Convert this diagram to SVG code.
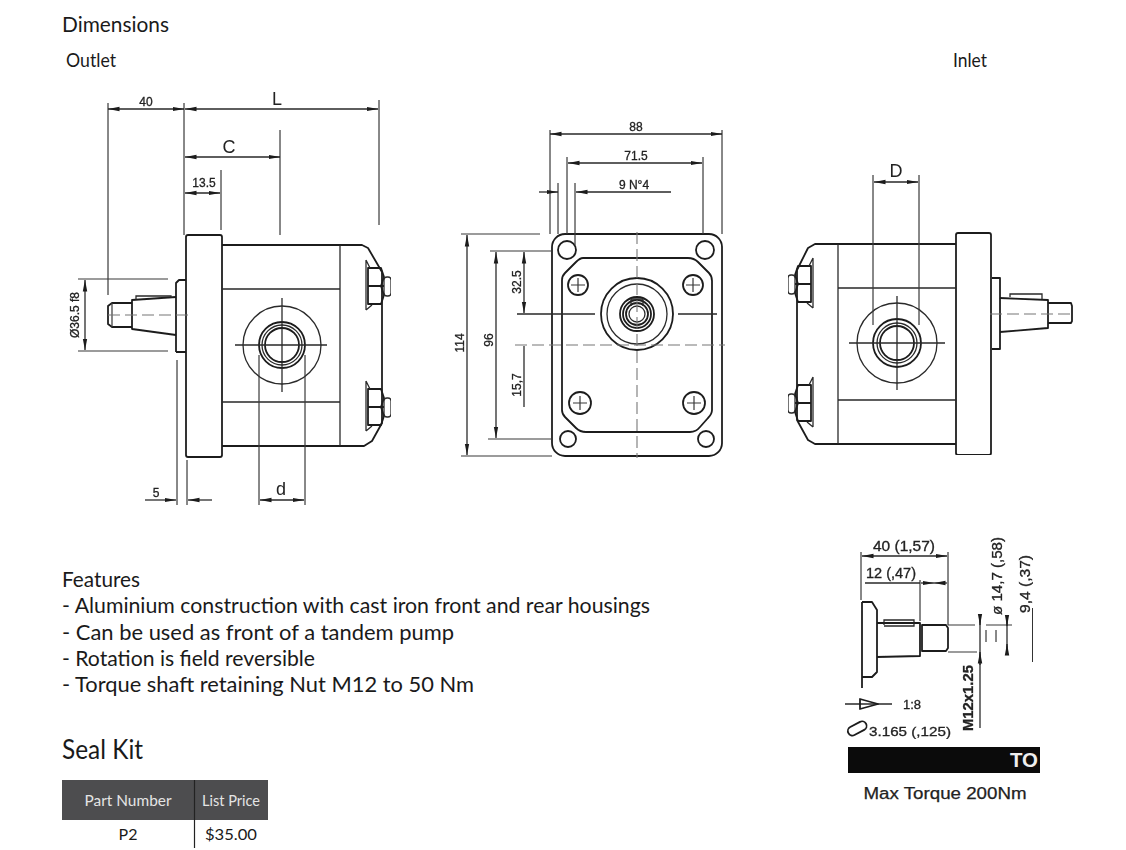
<svg xmlns="http://www.w3.org/2000/svg" width="1126" height="850" viewBox="0 0 1126 850">
<style>
.t{font-family:"Lato","Liberation Sans",sans-serif;fill:#1a1a1a}
.h{font-size:21px}
.th{font-size:16px;fill:#e4e4e4;text-anchor:middle}
.td{font-size:16px;text-anchor:middle}
.d{font-family:"Liberation Sans",sans-serif;fill:#222;stroke:#222;stroke-width:.3;font-size:12px;text-anchor:middle}
.dl{font-family:"Liberation Sans",sans-serif;fill:#222;font-size:18px;text-anchor:middle}
.g{fill:none;stroke:#1c1c1c;stroke-width:1.8;stroke-linejoin:round}
.m{fill:none;stroke:#2a2a2a;stroke-width:1.3}
.f{fill:none;stroke:#3a3a3a;stroke-width:1.2}
.c{fill:none;stroke:#777;stroke-width:1.1;stroke-dasharray:12 5}
.a{marker-start:url(#ar);marker-end:url(#ar)}
.e{marker-end:url(#ar)}
</style>
<defs>
<marker id="ar" markerWidth="12" markerHeight="6" refX="11.500" refY="3" orient="auto-start-reverse" markerUnits="userSpaceOnUse"><path d="M0 .8 L12 3 L0 5.200 Z" fill="#1c1c1c"/></marker>
<filter id="soft" x="0" y="0" width="100%" height="100%"><feGaussianBlur stdDeviation="0.5"/></filter>
<g id="hex"><path d="M0 -18 H13 L16 -9 L13 0 L16 9 L13 18 H0 Z M0 0 H16" class="g"/><rect x="16" y="-9" width="7" height="19" rx="3" class="m"/><path d="M-2 -26 V24 M-2 -26 L2 -18 M-2 24 L4 19" class="m"/></g>
</defs>
<rect width="1126" height="850" fill="#fff"/>

<g id="headings">
<text class="t h" x="62" y="32" textLength="107" lengthAdjust="spacingAndGlyphs">Dimensions</text>
<text class="t" font-size="19" x="66" y="67" textLength="50" lengthAdjust="spacingAndGlyphs">Outlet</text>
<text class="t" font-size="19" x="953" y="67" textLength="34" lengthAdjust="spacingAndGlyphs">Inlet</text>
</g>

<g id="side-view-outlet" filter="url(#soft)">
<g id="outlet-body">
<rect class="g" x="186" y="235" width="36" height="222" rx="2"/>
<path class="g" d="M222 245 H362 L368 248 L382 272 V423 L372 441 L364 446 H222"/>
<path class="m" d="M340 245 V446 M222 289 H340 M222 402 H340"/>
<path class="g" d="M176 352 V283 L179 280 H186 M176 352 H186"/>
<path class="g" d="M176 297 L132 300 V329 L176 335"/>
<path class="m" d="M136 300 V296 H171 V298"/>
<path class="g" d="M132 303 H112 L108 306 V324 L112 327 H132"/>
<path class="f" d="M112 303 V327"/>
<path class="c" d="M108 315 H188"/>
<use href="#hex" x="368" y="286"/>
<use href="#hex" x="368" y="407"/>
<circle class="m" cx="282" cy="345" r="39"/>
<circle class="g" cx="282" cy="345" r="23"/>
<circle class="m" cx="282" cy="345" r="20"/>
<circle class="g" cx="282" cy="345" r="17"/>
<path class="m" d="M235 345 H327 M282 298 V392"/>
</g>
<g id="outlet-dims">
<path class="f" d="M108 103 V295 M184 103 V235 M379 100 V225 M280 130 V235 M221 170 V230"/>
<path class="f" d="M78 279 H168 M78 351 H168 M177 360 V505 M187 460 V505 M259 355 V505 M305 355 V505"/>
<path class="m a" d="M108 109 H184"/>
<path class="m a" d="M185 109 H378"/>
<path class="m a" d="M185 157 H280"/>
<path class="m a" d="M185 193 H220"/>
<path class="m a" d="M85 280 V350"/>
<path class="m e" d="M145 500 H176"/>
<path class="m e" d="M212 500 H188"/>
<path class="m a" d="M260 500 H304"/>
<text class="d" x="146" y="106">40</text>
<text class="dl" x="277" y="105">L</text>
<text class="dl" x="229" y="153">C</text>
<text class="d" x="204" y="187">13.5</text>
<text class="d" transform="translate(79 315) rotate(-90)">Ø36.5 f8</text>
<text class="d" x="156" y="497">5</text>
<text class="dl" x="281" y="495">d</text>
</g>
</g>

<g id="front-view" filter="url(#soft)">
<g id="front-body">
<rect class="g" x="552" y="234" width="170" height="222" rx="13"/>
<path class="g" d="M583 258 H688 Q694 258 698 262 L709 273 Q712 276 712 281 V410 Q712 414 708 418 L700 427 Q696 432 690 432 H586 Q580 432 576 428 L565 417 Q562 414 562 410 V280 Q562 276 565 273 L576 262 Q580 258 583 258 Z"/>
<circle class="g" cx="567" cy="250" r="9"/>
<circle class="g" cx="705" cy="250" r="9"/>
<circle class="g" cx="568" cy="439" r="8"/>
<circle class="g" cx="706" cy="439" r="8"/>
<circle class="g" cx="578" cy="285" r="10"/>
<circle class="g" cx="693" cy="285" r="10"/>
<circle class="g" cx="580" cy="403" r="11"/>
<circle class="g" cx="694" cy="403" r="11"/>
<path class="f" d="M578 278 V292 M571 285 H585 M693 278 V292 M686 285 H700 M580 396 V410 M573 403 H587 M694 396 V410 M687 403 H701"/>
<circle class="g" cx="637" cy="314" r="36"/>
<circle class="m" cx="637" cy="314" r="30"/>
<circle class="g" cx="637" cy="314" r="17"/>
<circle class="g" cx="637" cy="314" r="14"/>
<circle class="g" cx="637" cy="314" r="11"/>
<circle class="m" cx="637" cy="314" r="8"/>
<path class="m" d="M631 306 V299 H643 V306"/>
</g>
<g id="front-dims">
<path class="m" d="M517 314 H595 M678 314 H717"/>
<path class="c" d="M515 345 H725 M637 232 V458"/>
<path class="f" d="M550 130 V234 M722 130 V234 M567 157 V234 M703 157 V234 M558 183 V234 M575 183 V245"/>
<path class="f" d="M461 234 H540 M461 456 H552 M490 251 H552 M488 439 H552"/>
<path class="m a" d="M550 134 H722"/>
<path class="m a" d="M568 163 H702"/>
<path class="m e" d="M539 192 H558"/>
<path class="m e" d="M671 192 H576"/>
<path class="m a" d="M467 235 V455"/>
<path class="m a" d="M496 252 V438"/>
<path class="m a" d="M524 252 V313"/>
<path class="m" d="M524 346 V407"/>
<text class="d" x="636" y="131">88</text>
<text class="d" x="636" y="160">71.5</text>
<text class="d" x="634" y="189">9 N°4</text>
<text class="d" transform="translate(464 343) rotate(-90)">114</text>
<text class="d" transform="translate(493 340) rotate(-90)">96</text>
<text class="d" transform="translate(521 282) rotate(-90)">32.5</text>
<text class="d" transform="translate(521 385) rotate(-90)">15,7</text>
</g>
</g>

<g id="side-view-inlet" filter="url(#soft)">
<g id="inlet-body">
<rect class="g" x="956" y="233" width="35" height="222" rx="2"/>
<path class="g" d="M956 244 H815 L808 248 L797 270 V420 L808 440 L815 444 H956"/>
<path class="m" d="M838 244 V444 M838 288 H956 M838 400 H956"/>
<path class="g" d="M992 278 H1000 V349 H992"/>
<path class="g" d="M1000 298 L1048 300 V328 L1000 332"/>
<path class="m" d="M1010 297 V294 H1042 V299"/>
<path class="g" d="M1048 303 H1071 L1072 306 V321 L1071 323 H1048"/>
<path class="c" d="M990 314 H1074"/>
<use href="#hex" transform="translate(811 284) scale(-1 1)"/>
<use href="#hex" transform="translate(811 403) scale(-1 1)"/>
<circle class="m" cx="897" cy="343" r="40"/>
<circle class="g" cx="897" cy="343" r="24"/>
<circle class="m" cx="897" cy="343" r="20"/>
<circle class="g" cx="897" cy="343" r="17"/>
<path class="m" d="M849 343 H945 M897 296 V390"/>
</g>
<g id="inlet-dims">
<path class="f" d="M873 175 V325 M919 175 V325"/>
<path class="m a" d="M874 182 H918"/>
<text class="dl" x="896" y="177">D</text>
</g>
</g>

<g id="shaft-detail" filter="url(#soft)">
<path class="g" d="M862 602 V688 M862 602 H872 L877 610 V672 L872 677 H862"/>
<path class="g" d="M877 623 H920 V656 L877 657"/>
<path class="m" d="M884 625 V620 H914 V626 H884"/>
<path class="g" d="M922 625 H946 L948 628 V648 L946 651 H922 Z"/>
<path class="f" d="M861 552 V600 M948 552 V625 M920 580 V621 M948 625 H975 M986 625 H1012 M948 652 H977 M986 630 V642 M996 630 V642"/>
<path class="m a" d="M862 556 H947"/>
<path class="m" d="M865 583 H920"/>
<path class="m e" d="M921 583 H934"/>
<path class="m e" d="M947 583 H934"/>
<path class="m" d="M980 615 V728"/>
<path class="m e" d="M980 615 V625"/>
<path class="m e" d="M980 665 V652"/>
<path class="m" d="M1007 618 V655"/>
<path class="m e" d="M1007 618 V626"/>
<path class="m e" d="M1007 655 V644"/>
<path class="g" d="M1033 608 V662"/>
<path class="m" d="M845 704 H892"/>
<path class="g" d="M860 699 L878 704 L860 709 Z"/>
<rect class="g" x="847" y="724" width="20" height="9" rx="4.500" transform="rotate(-28 857 728)"/>
<text class="d" style="font-size:14px" x="904" y="551" textLength="62" lengthAdjust="spacingAndGlyphs">40 (1,57)</text>
<text class="d" style="font-size:14px" x="891" y="578" textLength="50" lengthAdjust="spacingAndGlyphs">12 (,47)</text>
<text class="d" style="font-size:14px" transform="translate(1002 576) rotate(-90)" textLength="78" lengthAdjust="spacingAndGlyphs">ø 14,7 (,58)</text>
<text class="d" style="font-size:14px" transform="translate(1030 584) rotate(-90)" textLength="58" lengthAdjust="spacingAndGlyphs">9,4 (,37)</text>
<text class="d" style="font-size:14px;font-weight:bold" transform="translate(973 698) rotate(-90)" textLength="66" lengthAdjust="spacingAndGlyphs">M12x1.25</text>
<text class="d" style="font-size:13px" x="912" y="709">1:8</text>
<text class="d" style="font-size:13px" x="910" y="736" textLength="82" lengthAdjust="spacingAndGlyphs">3.165 (,125)</text>
</g>
<g id="torque-bar">
<rect x="848" y="747" width="192" height="26" fill="#0b0b0b"/>
<text x="1038" y="767" text-anchor="end" font-family="Liberation Sans, sans-serif" font-weight="bold" font-size="20" fill="#eee" textLength="28" lengthAdjust="spacingAndGlyphs">TO</text>
<text x="945" y="799" text-anchor="middle" font-family="Liberation Sans, sans-serif" font-size="16" fill="#222" stroke="#222" stroke-width="0.25" textLength="163" lengthAdjust="spacingAndGlyphs">Max Torque 200Nm</text>
</g>

<g id="features">
<text class="t h" x="62" y="587" textLength="78" lengthAdjust="spacingAndGlyphs">Features</text>
<text class="t h" x="62" y="613" textLength="588" lengthAdjust="spacingAndGlyphs">- Aluminium construction with cast iron front and rear housings</text>
<text class="t h" x="62" y="640" textLength="392" lengthAdjust="spacingAndGlyphs">- Can be used as front of a tandem pump</text>
<text class="t h" x="62" y="666" textLength="253" lengthAdjust="spacingAndGlyphs">- Rotation is field reversible</text>
<text class="t h" x="62" y="692" textLength="412" lengthAdjust="spacingAndGlyphs">- Torque shaft retaining Nut M12 to 50 Nm</text>
</g>

<g id="seal-kit">
<text class="t" font-size="27" x="62" y="759" textLength="81" lengthAdjust="spacingAndGlyphs">Seal Kit</text>
<rect x="62" y="780" width="206" height="40" fill="#4d4d4f"/>
<path d="M194.500 780 V848" stroke="#222" stroke-width="1.2" fill="none"/>
<text class="t th" x="128" y="806" textLength="87" lengthAdjust="spacingAndGlyphs">Part Number</text>
<text class="t th" x="231" y="806" textLength="58" lengthAdjust="spacingAndGlyphs">List Price</text>
<text class="t td" x="128" y="840">P2</text>
<text class="t td" x="231" y="840" textLength="52" lengthAdjust="spacingAndGlyphs">$35.00</text>
</g>
</svg>
